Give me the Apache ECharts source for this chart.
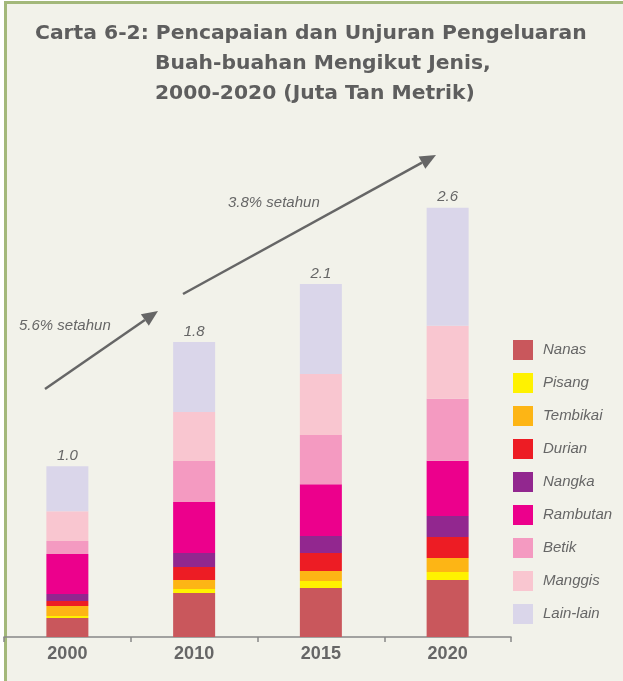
<!DOCTYPE html>
<html>
<head>
<meta charset="utf-8">
<title>Carta 6-2</title>
<script src="https://cdn.jsdelivr.net/npm/echarts@6/dist/echarts.min.js"></script>
<style>
  html, body { margin: 0; padding: 0; background: #ffffff; }
  #frame {
    position: absolute; left: 4px; top: 1px; width: 700px; height: 700px;
    background: #f2f2ea; border-left: 3px solid #a3b87a; border-top: 3px solid #a3b87a;
  }
  #chart { position: absolute; left: 0; top: 0; width: 623px; height: 681px; }
</style>
</head>
<body>
<div id="frame"></div>
<div id="chart"></div>
<script>
  /* ---------- 資料（百萬公噸，依圖面量取）---------- */
  const years = ['2000', '2010', '2015', '2020'];
  const totalLabels = ['1.0', '1.8', '2.1', '2.6'];

  const nanas     = [0.111, 0.257, 0.287, 0.333];
  const pisang    = [0.012, 0.023, 0.041, 0.047];
  const tembikai  = [0.058, 0.053, 0.058, 0.082];
  const durian    = [0.029, 0.076, 0.105, 0.123];
  const nangka    = [0.041, 0.082, 0.099, 0.123];
  const rambutan  = [0.234, 0.298, 0.304, 0.322];
  const betik     = [0.076, 0.240, 0.287, 0.363];
  const manggis   = [0.175, 0.287, 0.357, 0.427];
  const lainLain  = [0.263, 0.409, 0.526, 0.690];

  const seriesDefs = [
    { name: 'Nanas',     data: nanas,    color: '#c9575c' },
    { name: 'Pisang',    data: pisang,   color: '#fff200' },
    { name: 'Tembikai',  data: tembikai, color: '#fdb515' },
    { name: 'Durian',    data: durian,   color: '#ed1c24' },
    { name: 'Nangka',    data: nangka,   color: '#92278f' },
    { name: 'Rambutan',  data: rambutan, color: '#ec008c' },
    { name: 'Betik',     data: betik,    color: '#f49ac1' },
    { name: 'Manggis',   data: manggis,  color: '#f9c6d0' },
    { name: 'Lain-lain', data: lainLain, color: '#dad6ea' }
  ];

  const GRAY = '#5e5e5e';
  const FONT = '"Liberation Sans", Arial, sans-serif';
  const TITLE_FONT = '"DejaVu Sans", sans-serif';

  /* ---------- 箭頭註記 ---------- */
  function arrow(x1, y1, x2, y2) {
    const len = 16, half = 7;
    const a = Math.atan2(y2 - y1, x2 - x1);
    const bx = x2 - len * Math.cos(a), by = y2 - len * Math.sin(a);
    const px = -Math.sin(a) * half, py = Math.cos(a) * half;
    return [
      { type: 'line', shape: { x1: x1, y1: y1, x2: bx, y2: by }, style: { stroke: '#666666', lineWidth: 2.5 } },
      { type: 'polygon', shape: { points: [[x2, y2], [bx + px, by + py], [bx - px, by - py]] }, style: { fill: '#666666' } }
    ];
  }

  const series = seriesDefs.map(function (d, i) {
    const s = {
      name: d.name,
      type: 'bar',
      stack: 'total',
      barWidth: 42,
      data: d.data,
      itemStyle: { color: d.color },
      emphasis: { disabled: true }
    };
    if (i === seriesDefs.length - 1) {
      s.label = {
        show: true,
        position: 'top',
        distance: 3,
        formatter: function (p) { return totalLabels[p.dataIndex]; },
        color: '#666666',
        fontStyle: 'italic',
        fontSize: 15,
        fontFamily: FONT
      };
    }
    return s;
  });

  const titleStyle = { color: GRAY, fontSize: 20.3, fontWeight: 'bold', fontFamily: TITLE_FONT };

  const chart = echarts.init(document.getElementById('chart'), null, { renderer: 'canvas' });
  chart.setOption({
    backgroundColor: 'transparent',
    animation: false,
    title: [
      { text: 'Carta 6-2: Pencapaian dan Unjuran Pengeluaran', left: 35, top: 24, padding: 0, textStyle: titleStyle },
      { text: 'Buah-buahan Mengikut Jenis,', left: 155, top: 54, padding: 0, textStyle: titleStyle },
      { text: '2000-2020 (Juta Tan Metrik)', left: 155, top: 84, padding: 0, textStyle: titleStyle }
    ],
    legend: {
      orient: 'vertical',
      left: 513,
      top: 340,
      padding: 0,
      itemWidth: 20,
      itemHeight: 20,
      itemGap: 13,
      icon: 'rect',
      selectedMode: false,
      textStyle: { color: '#666666', fontStyle: 'italic', fontSize: 15, fontFamily: FONT, padding: [0, 0, 0, 5] }
    },
    grid: { left: 4, right: 112, top: 124, bottom: 44 },
    xAxis: {
      type: 'category',
      data: years,
      axisLine: { lineStyle: { color: '#888888', width: 1.5 } },
      axisTick: { show: true, length: 5, lineStyle: { color: '#888888', width: 1.5 } },
      axisLabel: { color: '#666666', fontSize: 18, fontWeight: 'bold', fontFamily: FONT, margin: 8 }
    },
    yAxis: { type: 'value', min: 0, max: 3, show: false },
    graphic: [].concat(
      arrow(45, 389, 158, 311),
      arrow(183, 294, 436, 155),
      [
        { type: 'text', left: 19, top: 318,
          style: { text: '5.6% setahun', fill: '#666666', font: 'italic 15px ' + FONT } },
        { type: 'text', left: 228, top: 195,
          style: { text: '3.8% setahun', fill: '#666666', font: 'italic 15px ' + FONT } }
      ]
    ),
    series: series
  });
</script>
</body>
</html>
